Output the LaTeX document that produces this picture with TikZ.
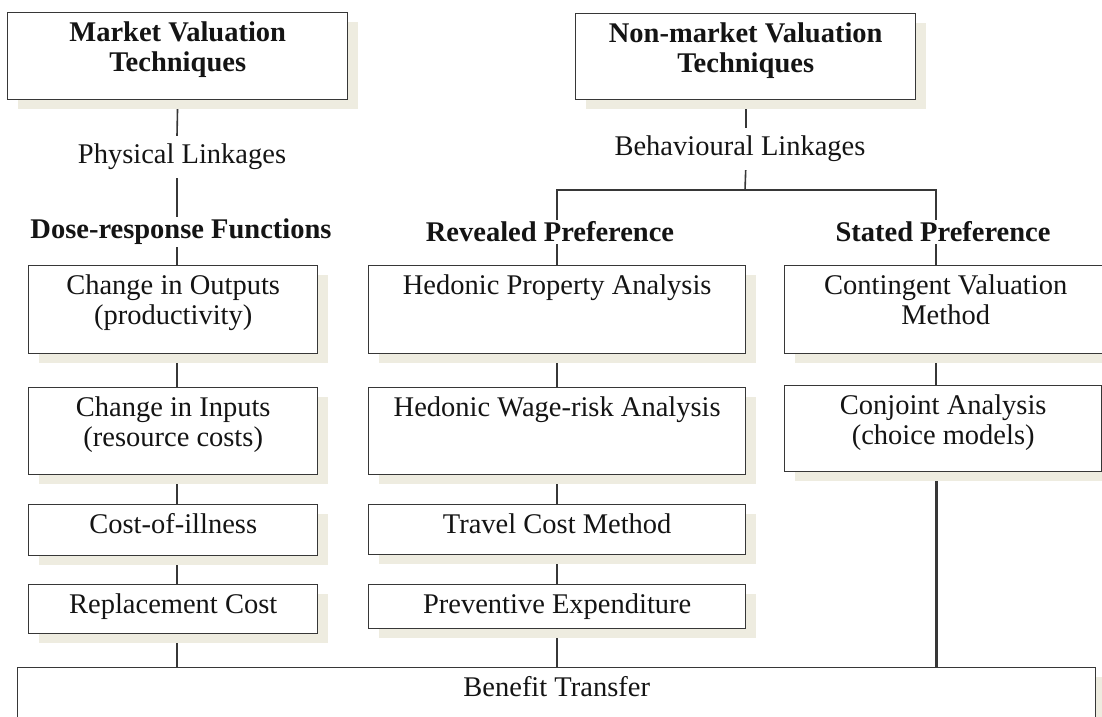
\documentclass[tikz,border=0pt]{standalone}
\usepackage{fontspec}
\setmainfont{Liberation Serif}
\usetikzlibrary{shadows,backgrounds}

\definecolor{shadowbeige}{RGB}{238,236,224}
\definecolor{boxline}{RGB}{55,55,55}
\definecolor{inktext}{RGB}{20,20,20}

% box text sits at the top of a fixed-size box
\newcommand{\boxlines}[3]{\parbox[t][#2][t]{#1}{\centering\rule{0pt}{29pt}#3}}

\begin{document}
\begin{tikzpicture}[x=1pt, y=-1pt,
          every node/.style={font=\fontsize{28.5}{29.5}\selectfont, text=inktext},
          techbox/.style={draw=boxline, line width=1.4pt, fill=white, inner sep=0pt,
            anchor=north west,
            drop shadow={shadow xshift=10pt, shadow yshift=-9pt, fill=shadowbeige, opacity=1}},
          linklabel/.style={inner xsep=2pt, inner ysep=8pt},
          prefhead/.style={inner xsep=2pt, inner ysep=2pt,
            font=\fontsize{28.5}{29.5}\selectfont\bfseries},
          link/.style={draw=boxline, line width=1.6pt}]

        \useasboundingbox (0,0) rectangle (1102,716);

        \node[techbox] (mvt)  at (7,12)   {\boxlines{340pt}{87pt}{\bfseries Market Valuation\\Techniques}};
        \node[techbox] (nmvt) at (575,13) {\boxlines{340pt}{86pt}{\bfseries Non-market Valuation\\Techniques}};

        \node[linklabel] (phys) at (182,157) {Physical Linkages};
        \node[linklabel] (beh)  at (740,149) {Behavioural Linkages};

        \node[prefhead] (dose) at (181,232) {Dose-response Functions};
        \node[prefhead] (rp)   at (550,232) {Revealed Preference};
        \node[prefhead] (sp)   at (943,232) {Stated Preference};

        \node[techbox] (outp) at (28,265) {\boxlines{289pt}{88pt}{Change in Outputs\\(productivity)}};
        \node[techbox] (inp)  at (28,387) {\boxlines{289pt}{87pt}{Change in Inputs\\(resource costs)}};
        \node[techbox] (coi)  at (28,504) {\boxlines{289pt}{51pt}{Cost-of-illness}};
        \node[techbox] (repl) at (28,584) {\boxlines{289pt}{49pt}{Replacement Cost}};

        \node[techbox] (hpa)  at (368,265) {\boxlines{377pt}{88pt}{Hedonic Property Analysis}};
        \node[techbox] (hwr)  at (368,387) {\boxlines{377pt}{87pt}{Hedonic Wage-risk Analysis}};
        \node[techbox] (tcm)  at (368,504) {\boxlines{377pt}{50pt}{Travel Cost Method}};
        \node[techbox] (prev) at (368,584) {\boxlines{377pt}{44pt}{Preventive Expenditure}};

        \node[techbox] (cvm)  at (784,265) {\boxlines{322pt}{88pt}{Contingent Valuation\\Method}};
        \node[techbox] (conj) at (784,385) {\boxlines{317pt}{86pt}{Conjoint Analysis\\(choice models)}};

        \node[techbox] (bt)   at (17,667)  {\boxlines{1078pt}{80pt}{Benefit Transfer}};

        \coordinate (ltrunk) at (177,0);
        \coordinate (mtrunk) at (557,0);
        \coordinate (rtrunk) at (936,0);
        \coordinate (split)  at (745,190);

        \begin{scope}[on background layer]
          \draw[link] (mvt.south) -- (ltrunk |- phys.north);
          \draw[link] (ltrunk |- phys.south) -- (ltrunk |- dose.north);
          \draw[link] (ltrunk |- dose.south) -- (ltrunk |- outp.north);
          \foreach \a/\b in {outp/inp, inp/coi, coi/repl, repl/bt}
            \draw[link] (ltrunk |- \a.south) -- (ltrunk |- \b.north);

          \draw[link] (nmvt.south) -- (nmvt.south |- beh.north);
          \draw[link] (nmvt.south |- beh.south) -- (split);
          \draw[link] (mtrunk |- rp.north) |- (split) -| (rtrunk |- sp.north);

          \draw[link] (mtrunk |- rp.south) -- (mtrunk |- hpa.north);
          \foreach \a/\b in {hpa/hwr, hwr/tcm, tcm/prev, prev/bt}
            \draw[link] (mtrunk |- \a.south) -- (mtrunk |- \b.north);

          \draw[link] (rtrunk |- sp.south) -- (rtrunk |- cvm.north);
          \draw[link] (rtrunk |- cvm.south) -- (rtrunk |- conj.north);
          \draw[link, line width=3pt] (rtrunk |- conj.south) -- (rtrunk |- bt.north);
        \end{scope}

      \end{tikzpicture}
\end{document}
